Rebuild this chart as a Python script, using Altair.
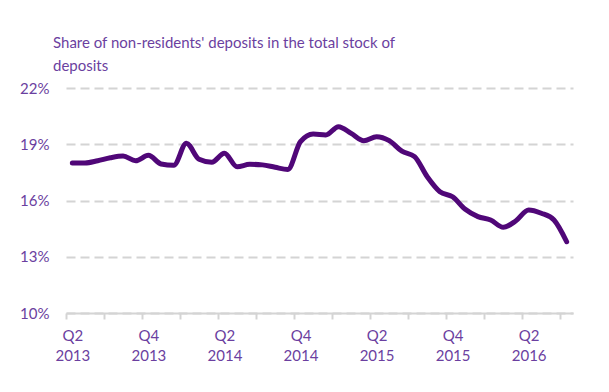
import altair as alt
import pandas as pd

# Monthly share (%) of non-residents' deposits, Apr 2013 .. Jul 2016
share_pct = [
    18.0, 18.0, 18.12, 18.28, 18.37, 18.12, 18.41, 17.95, 17.88, 19.05,
    18.2, 18.04, 18.52, 17.8, 17.93, 17.9, 17.77, 17.66, 19.14, 19.55,
    19.5, 19.94, 19.58, 19.19, 19.4, 19.19, 18.63, 18.34, 17.27, 16.47,
    16.2, 15.53, 15.14, 14.96, 14.57, 14.92, 15.49, 15.32, 14.96, 13.8,
]
quarter_labels = ["Q2", "Q4", "Q2", "Q4", "Q2", "Q4", "Q2"]
year_labels = ["2013", "2013", "2014", "2014", "2015", "2015", "2016"]
label_positions = [0, 6, 12, 18, 24, 30, 36]
y_ticks = [0.10, 0.13, 0.16, 0.19, 0.22]

df = pd.DataFrame({
    "idx": list(range(len(share_pct))),
    "share": [v / 100 for v in share_pct],
})

boundaries = [i - 0.5 for i in range(0, len(share_pct), 3)]
axis_values = sorted(boundaries + label_positions)

label_map = ", ".join(
    f"'{p}': ['{q}', '{y}']" for p, q, y in zip(label_positions, quarter_labels, year_labels)
)
label_expr = f"({{{label_map}}})[''+datum.value] || ''"

FONT = "Lato"
TEXT_COLOR = "#6b3fa0"
LINE_COLOR = "#500778"
GRID_COLOR = "#d4d4d4"

chart = alt.Chart(df).mark_line(
    color=LINE_COLOR, strokeWidth=5, interpolate="monotone", strokeCap="round"
).encode(
    x=alt.X(
        "idx:Q",
        scale=alt.Scale(domain=[-0.5, len(share_pct) - 0.5], nice=False, zero=False),
        axis=alt.Axis(
            values=axis_values,
            title=None,
            grid=False,
            domainColor=GRID_COLOR,
            domainWidth=2,
            tickColor=GRID_COLOR,
            tickWidth=2,
            tickSize=6,
            tickOpacity={"condition": {"test": "datum.value % 1 != 0", "value": 1}, "value": 0},
            labelExpr=label_expr,
            labelFont=FONT,
            labelFontSize=15,
            labelColor=TEXT_COLOR,
            labelLineHeight=20,
            labelPadding=9,
            labelOverlap=False,
            labelFlush=False,
            labelBound=False,
        ),
    ),
    y=alt.Y(
        "share:Q",
        scale=alt.Scale(domain=[0.10, 0.22], nice=False, zero=False),
        axis=alt.Axis(
            values=y_ticks,
            format=".0%",
            title=None,
            domain=False,
            ticks=False,
            grid=True,
            gridColor=GRID_COLOR,
            gridWidth=2,
            gridDash=[9, 5],
            labelFont=FONT,
            labelFontSize=15,
            labelColor=TEXT_COLOR,
            labelPadding=17,
        ),
    ),
).properties(
    width=507,
    height=225,
    title=alt.TitleParams(
        text=["Share of non-residents' deposits in the total stock of", "deposits"],
        anchor="start",
        frame="group",
        dx=-13,
        offset=7,
        font=FONT,
        fontSize=15,
        fontWeight="normal",
        lineHeight=23,
        color=TEXT_COLOR,
    ),
    autosize=alt.AutoSizeParams(type="none"),
    padding={"left": 58, "top": 80, "right": 28, "bottom": 71},
).configure_view(stroke=None).configure_axis(zindex=1)

chart.save("out.html", embed_options={"renderer": "svg", "actions": False})
